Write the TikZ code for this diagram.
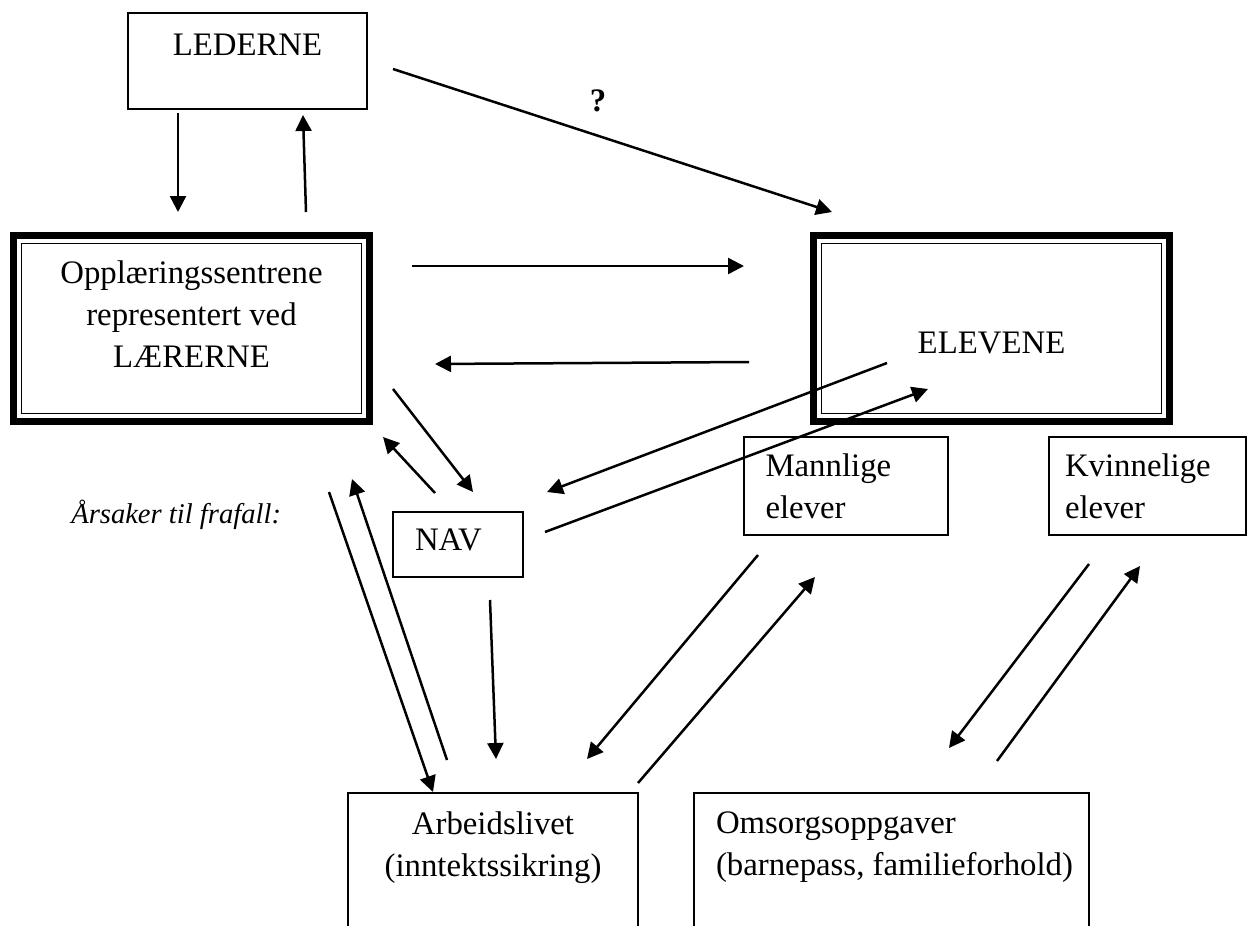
\documentclass[tikz,border=0pt]{standalone}
\usepackage{fontspec}
\setmainfont{Liberation Serif}
\usetikzlibrary{arrows.meta}
\newcommand\clines[1]{\vtop{\halign{\hfil##\hfil\cr#1\crcr}}}
\newcommand\llines[1]{\vtop{\halign{##\hfil\cr#1\crcr}}}
\begin{document}
\begin{tikzpicture}[x=0.5pt,y=-0.5pt,
  every node/.style={font=\fontsize{16.4}{21}\selectfont, inner sep=0pt, outer sep=0pt},
  box/.style={draw, line width=0.9pt},
  thickframe/.style={draw, line width=3.6pt},
  thinframe/.style={draw, line width=0.8pt},
  conn/.style={line width=1.25pt, -{Triangle[length=8pt,width=8pt]}},
  lbl/.style={anchor=base},
  lblw/.style={anchor=base west},
]
\useasboundingbox (0,0) rectangle (1249,926);
\clip (0,0) rectangle (1249,926);

% boxes
\node[box, minimum width=119.5pt, minimum height=48pt] (led) at (247.5,61) {};
\node[thickframe, minimum width=178pt, minimum height=93pt] (lar) at (191.5,328.5) {};
\draw[thinframe] ([shift={(8,8)}]lar.north west) rectangle ([shift={(-8,-8)}]lar.south east);
\node[thickframe, minimum width=178pt, minimum height=93pt] (elev) at (991.5,328.5) {};
\draw[thinframe] ([shift={(8,8)}]elev.north west) rectangle ([shift={(-8,-8)}]elev.south east);
\node[box, minimum width=102pt, minimum height=49pt] (mann) at (846,486) {};
\node[box, minimum width=98.5pt, minimum height=49pt] (kvinn) at (1147.5,486) {};
\node[box, minimum width=65pt, minimum height=32.5pt] (nav) at (458,544.5) {};
\node[box, minimum width=145pt, minimum height=93.5pt] (arb) at (493,886.5) {};
\node[box, minimum width=197.5pt, minimum height=93.5pt] (oms) at (891.5,886.5) {};

% texts
\node[lbl] (tled) at (247.5,55) {LEDERNE};
\node[lbl] (tlar) at (191.5,283) {\clines{Opplæringssentrene\cr representert ved\cr LÆRERNE}};
\node[lbl] (telev) at (991.5,353) {ELEVENE};
\node[lblw] (tmann) at (765.5,476) {\llines{Mannlige\cr elever}};
\node[lblw] (tkvinn) at (1065,476) {\llines{Kvinnelige\cr elever}};
\node[lblw] (tnav) at (415,550) {NAV};
\node[lbl] (tarb) at (493,834) {\clines{Arbeidslivet\cr (inntektssikring)}};
\node[lblw] (toms) at (716,833) {\llines{Omsorgsoppgaver\cr (barnepass, familieforhold)}};
\node[anchor=base east, font=\fontsize{14.3}{18}\selectfont\itshape] (tars) at (281,523) {Årsaker til frafall:};
\node[lbl, font=\fontsize{16.4}{21}\selectfont\bfseries] (tq) at (598,112) {?};

% connector end points
\coordinate (a1s) at (178,113);  \coordinate (a1e) at (178,212);
\coordinate (a2s) at (306,212);  \coordinate (a2e) at (303,115);
\coordinate (a3s) at (393,69);   \coordinate (a3e) at (832,212);
\coordinate (a4s) at (412,266);  \coordinate (a4e) at (744,266);
\coordinate (a5s) at (749,362);  \coordinate (a5e) at (435,364);
\coordinate (a6s) at (393,389);  \coordinate (a6e) at (473,492);
\coordinate (a7s) at (435,493);  \coordinate (a7e) at (383,437);
\coordinate (a8s) at (887,363);  \coordinate (a8e) at (547,492);
\coordinate (a9s) at (545,532);  \coordinate (a9e) at (928,389);
\coordinate (a10s) at (329,492); \coordinate (a10e) at (433,792);
\coordinate (a11s) at (447,760); \coordinate (a11e) at (352,479);
\coordinate (a12s) at (490,600); \coordinate (a12e) at (496,759);
\coordinate (a13s) at (758,555); \coordinate (a13e) at (587,759);
\coordinate (a14s) at (638,783); \coordinate (a14e) at (815,577);
\coordinate (a15s) at (1089,564); \coordinate (a15e) at (949,748);
\coordinate (a16s) at (997,761); \coordinate (a16e) at (1140,566);

\foreach \i in {1,...,16} {\draw[conn] (a\i s) -- (a\i e);}
\end{tikzpicture}
\end{document}
